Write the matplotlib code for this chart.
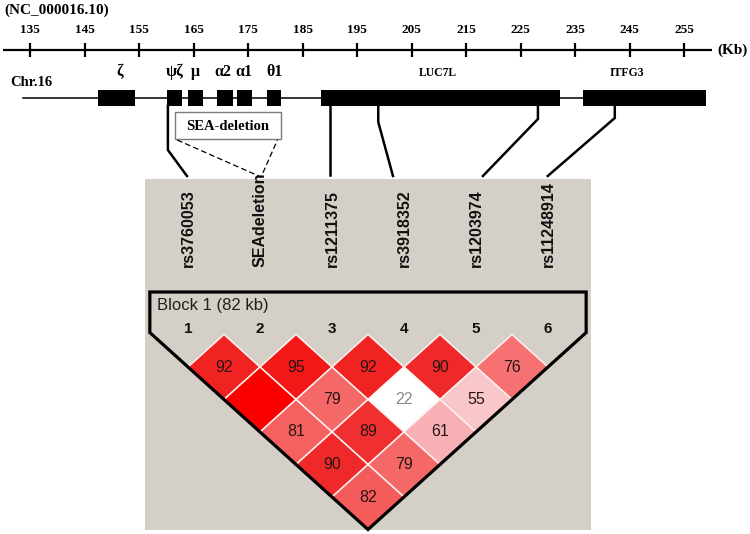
import matplotlib
matplotlib.use("Agg")
import matplotlib.pyplot as plt
from matplotlib.patches import Rectangle, Polygon
from matplotlib.colors import LinearSegmentedColormap

# ---------------- data ----------------
accession = "(NC_000016.10)"
scale_ticks = [135, 145, 155, 165, 175, 185, 195, 205, 215, 225, 235, 245, 255]
scale_range = (130.0, 260.1)
chrom_range = (133.7, 258.9)

gene_names = ["ζ", "ψζ", "μ", "α2", "α1", "θ1", "LUC7L", "ITFG3"]
gene_start = [147.5, 160.1, 164.0, 169.3, 173.0, 178.5, 188.4, 236.5]
gene_end = [154.3, 162.9, 166.7, 172.2, 175.7, 181.1, 232.2, 259.0]
gene_label_x = [151.5, 161.6, 165.4, 170.3, 174.3, 179.8, 209.9, 244.5]

sea_box = (161.6, 181.1)

# links from gene map to LD markers (kb of vertical part, kb at label top)
link_start = [160.3, 190.0, 198.9, 228.2, 242.3]
link_end = [163.8, 190.0, 201.6, 218.1, 230.0]
link_bend = [150, None, 122, 119, 118]
sea_link_end = 177.4

markers = ["rs3760053", "SEAdeletion", "rs1211375", "rs3918352",
           "rs1203974", "rs11248914"]
marker_nums = ["1", "2", "3", "4", "5", "6"]
block_label = "Block 1 (82 kb)"

ld_pairs = [(0, 1), (1, 2), (2, 3), (3, 4), (4, 5),
            (0, 2), (1, 3), (2, 4), (3, 5),
            (0, 3), (1, 4), (2, 5),
            (0, 4), (1, 5),
            (0, 5)]
ld_dprime = [92, 95, 92, 90, 76,
             100, 79, 22, 55,
             81, 89, 61,
             90, 79,
             82]

# ---------------- figure ----------------
W, H = 750, 534
fig = plt.figure(figsize=(W / 100, H / 100), dpi=100)
fig.patch.set_facecolor("white")

SERIF = ["Liberation Serif", "DejaVu Serif"]
SANS = ["Liberation Sans", "DejaVu Sans"]

# LD axes: x = marker index, y = half row-distance
px_per_x, x0px = 72.0, 188.0
px_per_y, y0px = 65.0, 334.5
ax_ld = fig.add_axes([0, 0, 1, 1])
ax_ld.set_xlim((0 - x0px) / px_per_x, (W - x0px) / px_per_x)
ax_ld.set_ylim((H - y0px) / px_per_y, (0 - y0px) / px_per_y)
ax_ld.axis("off")

# Gene axes: x in kb, y in pixels
kb0, kb_px = 135.0, 5.45
ax = fig.add_axes([0, 0, 1, 1])
ax.set_xlim(kb0 - 30 / kb_px, kb0 + (W - 30) / kb_px)
ax.set_ylim(H, 0)
ax.axis("off")
ax.patch.set_alpha(0)

# ---- LD panel ----
n = len(markers)
ax_ld.add_patch(Rectangle((-0.6, -2.39), n - 1 + 1.2, 5.39,
                          facecolor="#d4d0c8", edgecolor="none", zorder=0))

cmap = LinearSegmentedColormap.from_list("ld", [
    (0.0, "#ffffff"), (0.25, "#ffffff"), (0.55, "#f9c6ca"),
    (0.62, "#f7aeb2"), (0.76, "#f67272"), (0.80, "#f56666"),
    (0.83, "#f45656"), (0.90, "#ef2a2a"), (0.95, "#f41818"),
    (1.0, "#fc0000")])

for (i, j), d in zip(ld_pairs, ld_dprime):
    cx, cy = (i + j) / 2, (j - i) / 2
    poly = Polygon([(cx, cy - 0.5), (cx + 0.5, cy), (cx, cy + 0.5), (cx - 0.5, cy)],
                   closed=True, facecolor=cmap(d / 100), edgecolor="#fff0f0",
                   linewidth=1.1, zorder=2)
    ax_ld.add_patch(poly)
    if d < 100:
        ax_ld.text(cx, cy, str(d), ha="center", va="center", fontsize=11.5,
                   family=SANS, color="#8a8a8a" if d < 40 else "#2a1515", zorder=3)

m = 0.53
outline = [(-m, -0.654), (-m, -m + 0.5), ((n - 1) / 2, (n - 1) / 2 + 0.5),
           (n - 1 + m, -m + 0.5), (n - 1 + m, -0.654)]
ax_ld.add_patch(Polygon(outline, closed=True, facecolor="none",
                        edgecolor="black", linewidth=2.3, zorder=4,
                        joinstyle="miter"))

ax_ld.text(-0.43, -0.44, block_label, ha="left", va="center", fontsize=12,
           family=SANS, color="#202020")
for i, lab in enumerate(marker_nums):
    ax_ld.text(i, -0.085, lab, ha="center", va="center", fontsize=11,
               family=SANS, fontweight="bold", color="#111111")
for i, lab in enumerate(markers):
    ax_ld.text(i, -1.04, lab, ha="center", va="bottom", rotation=90,
               fontsize=11.5, family=SANS, fontweight="bold", color="#111111")

# ---- genomic map ----
ax.text(ax.get_xlim()[0] + 4 / kb_px, 10, accession, ha="left", va="center",
        fontsize=11, family=SERIF, fontweight="bold")
ax.plot(scale_range, [50, 50], color="black", lw=1.6, solid_capstyle="butt")
for t in scale_ticks:
    ax.plot([t, t], [43, 57], color="black", lw=1.6, solid_capstyle="butt")
    ax.text(t, 30, str(t), ha="center", va="center", fontsize=9.5,
            family=SERIF, fontweight="bold")
ax.text(scale_range[1] + 1.0, 50, "(Kb)", ha="left", va="center", fontsize=11,
        family=SERIF, fontweight="bold")

ax.text(kb0 + (10 - 30) / kb_px, 83, "Chr.16", ha="left", va="center",
        fontsize=10.5, family=SERIF, fontweight="bold")
ax.plot(chrom_range, [98, 98], color="black", lw=1.1, zorder=1)
for name, s, e, lx in zip(gene_names, gene_start, gene_end, gene_label_x):
    ax.add_patch(Rectangle((s, 90), e - s, 16, facecolor="black",
                           edgecolor="none", zorder=2))
    big = len(name) <= 2
    ax.text(lx, 72 if big else 73, name, ha="center", va="center",
            fontsize=11.5 if big else 8.5, family=SERIF, fontweight="bold")

# SEA-deletion box and dashed links
ax.add_patch(Rectangle((sea_box[0], 112), sea_box[1] - sea_box[0], 27,
                       facecolor="white", edgecolor="#7a7a7a", lw=1.0, zorder=3))
ax.text((sea_box[0] + sea_box[1]) / 2, 126, "SEA-deletion", ha="center",
        va="center", fontsize=10.5, family=SERIF, fontweight="bold", zorder=4)
ax.plot([sea_box[0] + 0.4, sea_link_end, sea_box[1] - 0.7], [140, 177, 140],
        color="black", lw=0.9, ls=(0, (4.5, 2.5)), zorder=3)

for s, e, b in zip(link_start, link_end, link_bend):
    if b is None:
        xs, ys = [s, e], [106, 175]
    else:
        xs, ys = [s, s, e], [106, b, 176]
    ax.plot(xs, ys, color="black", lw=1.8, zorder=3, solid_joinstyle="miter")

fig.savefig("out.png", dpi=100, facecolor="white")
